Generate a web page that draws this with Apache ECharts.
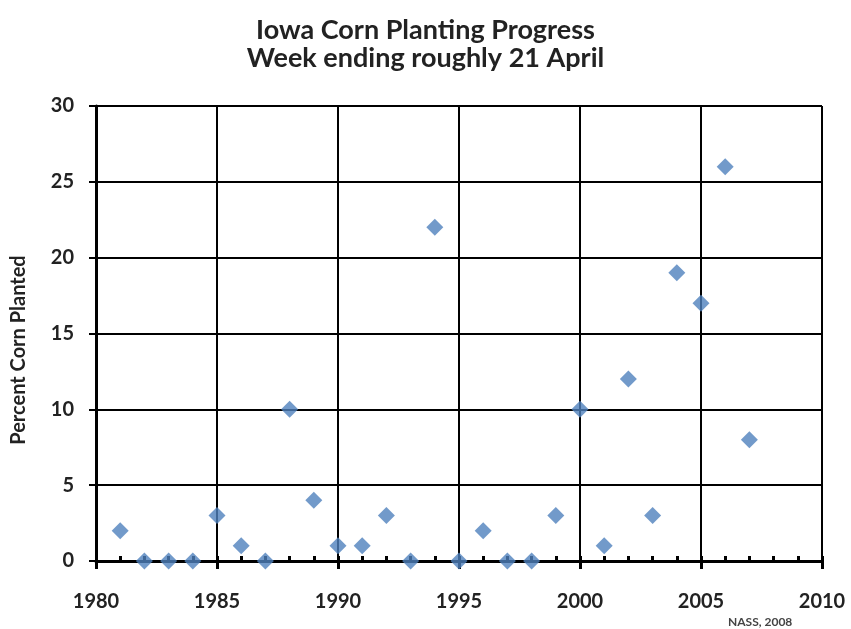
<!DOCTYPE html>
<html><head><meta charset="utf-8">
<script src="https://cdn.jsdelivr.net/npm/echarts@6/dist/echarts.min.js"></script>
<style>html,body{margin:0;padding:0;background:#fff}#c{width:851px;height:629px}</style>
</head><body><div id="c"></div>
<script>
const years = [1981,1982,1983,1984,1985,1986,1987,1988,1989,1990,1991,1992,1993,1994,1995,1996,1997,1998,1999,2000,2001,2002,2003,2004,2005,2006,2007];
const percentPlanted = [2,0,0,0,3,1,0,10,4,1,1,3,0,22,0,2,0,0,3,10,1,12,3,19,17,26,8];
const titleLines = ['Iowa Corn Planting Progress','Week ending roughly 21 April'];
const yAxisName = 'Percent Corn Planted';
const sourceNote = 'NASS, 2008';

const font = 'Lato, "Open Sans", sans-serif';
const chart = echarts.init(document.getElementById('c'));
chart.setOption({
  backgroundColor: '#fff',
  animation: false,
  title: {
    text: titleLines.join('\n'), left: 'center', top: 11,
    textStyle: {fontFamily: font, fontSize: 27, fontWeight: 'bold', color: '#222', lineHeight: 28}
  },
  graphic: [
    {type: 'text', x: 728, y: 622, style: {text: sourceNote, font: 'bold 12px ' + font, fill: '#444', verticalAlign: 'middle'}},
    {type: 'text', x: 19, y: 350, rotation: Math.PI/2, style: {text: yAxisName, font: 'bold 20px ' + font, fill: '#222', align: 'center', verticalAlign: 'middle'}}
  ],
  grid: {left: 96, right: 29, top: 106, bottom: 68},
  xAxis: [{
    type: 'value', min: 1980, max: 2010, interval: 5, z: 0,
    axisLine: {lineStyle: {color: '#000', width: 3}},
    axisTick: {show: true, inside: false, length: 8, lineStyle: {color: '#000', width: 3}},
    axisLabel: {fontFamily: font, fontSize: 20, fontWeight: 'bold', color: '#222', margin: 31, formatter: v => String(v)},
    splitLine: {show: true, lineStyle: {color: '#000', width: 2}}
  },{
    type: 'value', min: 1980, max: 2010, interval: 1, position: 'bottom', z: 0,
    axisLine: {show: false},
    axisTick: {show: true, inside: true, length: 5, lineStyle: {color: '#000', width: 3}},
    axisLabel: {show: false}, splitLine: {show: false}
  }],
  yAxis: {
    type: 'value', min: 0, max: 30, interval: 5,
    axisLine: {show: true, lineStyle: {color: '#000', width: 3}},
    axisTick: {show: true, inside: false, length: 7, lineStyle: {color: '#000', width: 2}},
    axisLabel: {fontFamily: font, fontSize: 20, fontWeight: 'bold', color: '#222', margin: 22},
    splitLine: {show: true, lineStyle: {color: '#000', width: 2}}
  },
  series: [{
    type: 'scatter', xAxisIndex: 0, zlevel: 1, z: 20, clip: false,
    data: years.map((y, i) => [y, percentPlanted[i]]),
    symbol: 'diamond', symbolSize: 17,
    itemStyle: {color: '#4F81BD'}
  }]
});
</script></body></html>
